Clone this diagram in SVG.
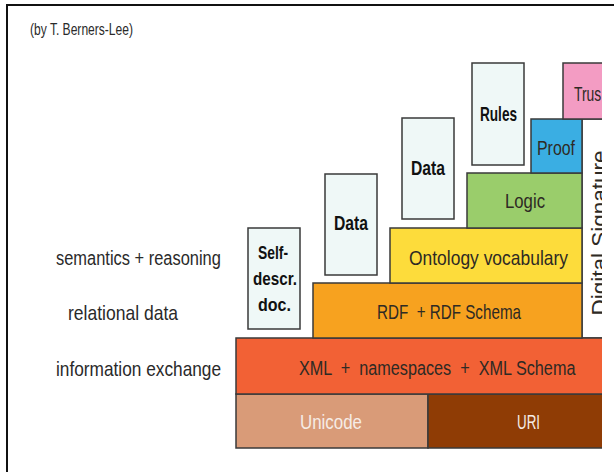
<svg xmlns="http://www.w3.org/2000/svg" width="614" height="472" viewBox="0 0 614 472">
<style>
.box{stroke:#3a3a3a;stroke-width:1.5}
.wb{fill:#eff8f7;stroke:#3a3a3a;stroke-width:1.5}
.t{font-family:"Liberation Sans",Arial,sans-serif;font-size:21px;fill:#2e2a24}
.b{font-family:"Liberation Sans",Arial,sans-serif;font-size:21px;font-weight:bold;fill:#111}
.w{font-family:"Liberation Sans",Arial,sans-serif;font-size:21px;fill:#f6ece6}
.lab{font-family:"Liberation Sans",Arial,sans-serif;font-size:21px;fill:#2a2a2a}
</style>
<defs>
<clipPath id="clip"><rect x="0" y="0" width="602" height="472"/></clipPath>
</defs>
<rect x="0" y="0" width="614" height="472" fill="#ffffff"/>
<g id="frame" fill="none" stroke="#111" stroke-width="2">
<path d="M7,472 V5 H614"/>
</g>
<text class="lab" x="30" y="35" style="font-size:16px" textLength="103" lengthAdjust="spacingAndGlyphs">(by T. Berners-Lee)</text>
<text class="lab" transform="translate(56,265) scale(0.783,1)">semantics + reasoning</text>
<text class="lab" x="68" y="320" textLength="110" lengthAdjust="spacingAndGlyphs">relational data</text>
<text class="lab" transform="translate(56,376) scale(0.822,1)">information exchange</text>
<g id="signature">
<g clip-path="url(#clip)">
<rect class="box" x="582" y="119" width="40" height="219" fill="#ffffff"/>
<text class="t" transform="translate(607,233) rotate(-90)" text-anchor="middle" style="font-size:22px" textLength="165" lengthAdjust="spacingAndGlyphs">Digital Signature</text>
</g>
</g>
<g id="unicode">
<rect class="box" x="236" y="394" width="192" height="54" fill="#d99b78"/>
<text class="w" x="300" y="429" textLength="62" lengthAdjust="spacingAndGlyphs">Unicode</text>
</g>
<g id="uri">
<rect class="box" x="428" y="394" width="194" height="54" fill="#8f3c05" clip-path="url(#clip)"/>
<text class="w" x="517" y="429" textLength="23" lengthAdjust="spacingAndGlyphs">URI</text>
</g>
<g id="xml">
<rect class="box" x="236" y="338" width="386" height="56" fill="#f26135" clip-path="url(#clip)"/>
<text class="t" transform="translate(299,375) scale(0.773,1)" xml:space="preserve">XML  +  namespaces  +  XML Schema</text>
</g>
<g id="rdf">
<rect class="box" x="313" y="283" width="269" height="55" fill="#f7a21f"/>
<text class="t" x="377" y="319" xml:space="preserve" textLength="144" lengthAdjust="spacingAndGlyphs">RDF  + RDF Schema</text>
</g>
<g id="ontology">
<rect class="box" x="390" y="228" width="192" height="55" fill="#fddc3b"/>
<text class="t" x="409" y="265" textLength="159" lengthAdjust="spacingAndGlyphs">Ontology vocabulary</text>
</g>
<g id="logic">
<rect class="box" x="467" y="173" width="115" height="55" fill="#9acd6b"/>
<text class="t" x="505" y="208" textLength="40" lengthAdjust="spacingAndGlyphs">Logic</text>
</g>
<g id="proof">
<rect class="box" x="531" y="119" width="51" height="54" fill="#3aaee3"/>
<text class="t" x="537" y="155" textLength="38" lengthAdjust="spacingAndGlyphs">Proof</text>
</g>
<g id="trust">
<rect class="box" x="563" y="63" width="59" height="56" fill="#f39cc3" clip-path="url(#clip)"/>
<text class="t" transform="translate(574,101) scale(0.66,1)">Trus</text>
</g>
<g id="rules">
<rect class="wb" x="472" y="63" width="52" height="102"/>
<text class="b" x="480" y="121" textLength="37" lengthAdjust="spacingAndGlyphs">Rules</text>
</g>
<g id="data2">
<rect class="wb" x="402" y="118" width="52" height="101"/>
<text class="b" x="411" y="175" textLength="34" lengthAdjust="spacingAndGlyphs">Data</text>
</g>
<g id="data1">
<rect class="wb" x="325" y="174" width="52" height="101"/>
<text class="b" x="334" y="230" textLength="34" lengthAdjust="spacingAndGlyphs">Data</text>
</g>
<g id="selfdescr">
<rect class="wb" x="248" y="228" width="52" height="101"/>
<text class="b" x="258" y="259" style="font-size:19px" textLength="30" lengthAdjust="spacingAndGlyphs">Self-</text>
<text class="b" x="253" y="285" style="font-size:19px" textLength="44" lengthAdjust="spacingAndGlyphs">descr.</text>
<text class="b" x="258" y="311" style="font-size:19px" textLength="33" lengthAdjust="spacingAndGlyphs">doc.</text>
</g>
</svg>
